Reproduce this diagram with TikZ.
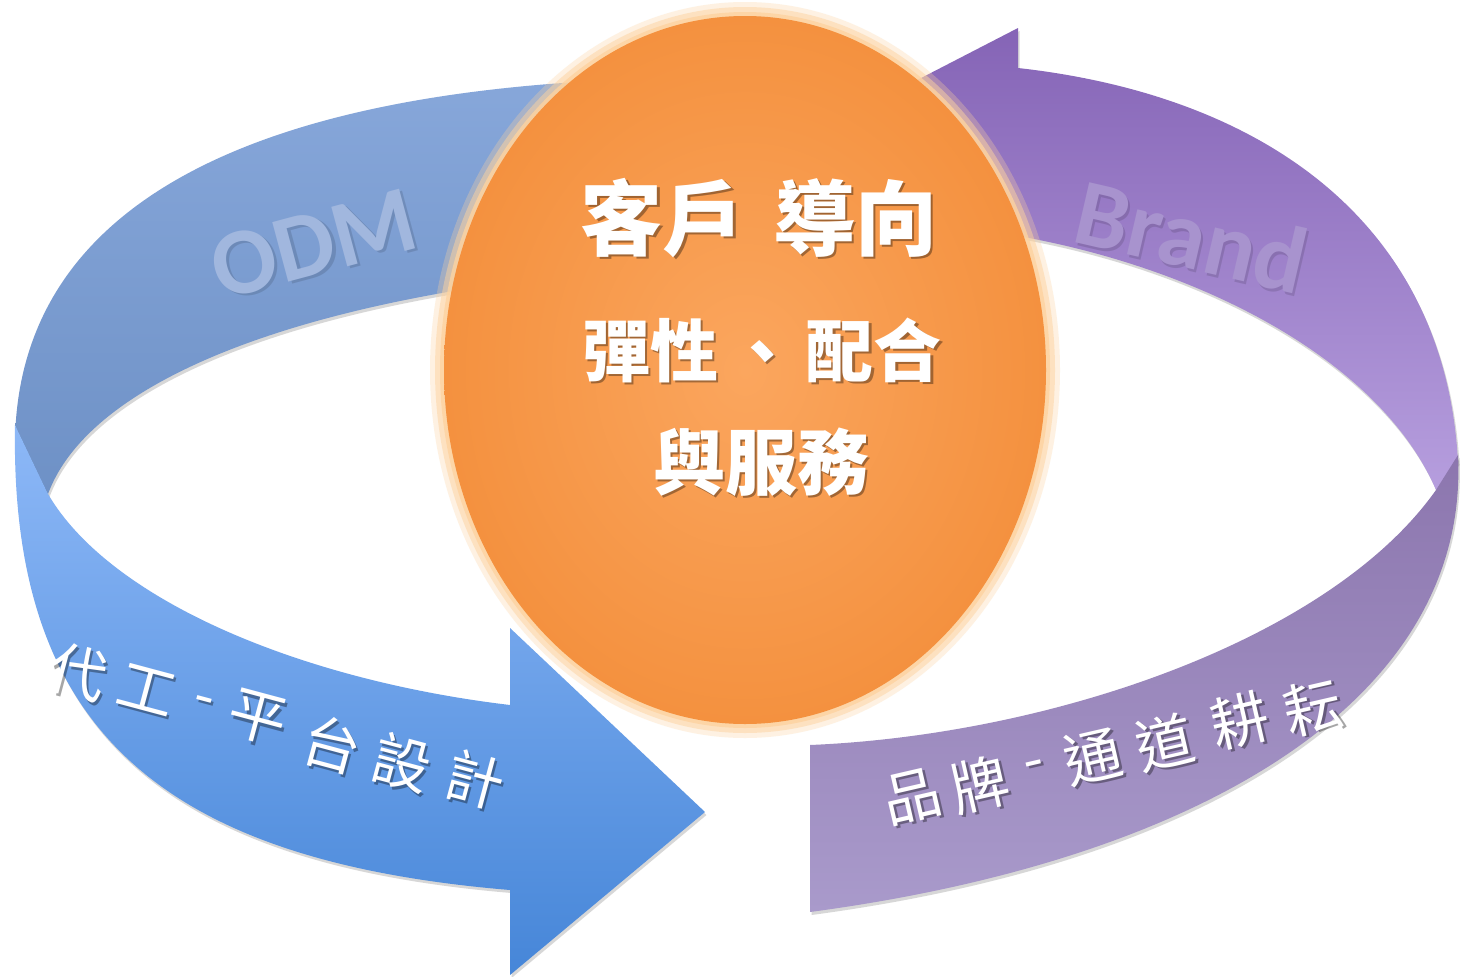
\documentclass[tikz,border=0pt]{standalone}
\usepackage{fontspec}
\newfontfamily\cjk{Noto Sans CJK TC}
\newfontfamily\lat{Carlito}
\usetikzlibrary{shapes.geometric,shadows}
\definecolor{bbT}{HTML}{87A7DA}
\definecolor{bbB}{HTML}{6E91C6}
\definecolor{bfT}{HTML}{8DB8F7}
\definecolor{bfB}{HTML}{4686D8}
\definecolor{pbT}{HTML}{8564B6}
\definecolor{pbB}{HTML}{B69EDE}
\definecolor{pfT}{HTML}{8C76AE}
\definecolor{pfM}{HTML}{A08EC2}
\definecolor{pfB}{HTML}{A99ACB}
\definecolor{orIn}{HTML}{FBA65E}
\definecolor{orOut}{HTML}{F4913F}
\definecolor{glowC}{HTML}{FDD3A0}
\definecolor{odmC}{HTML}{A1B7DE}
\definecolor{brandC}{HTML}{A893CE}
\newcommand\shadowed[5][0.35]{%
  \node[#4, text=black, opacity=#1, xshift=2.5pt, yshift=-2.5pt] (#2s) at (#3) {#5};
  \node[#4] (#2) at (#3) {#5};
}
\begin{document}
\begin{tikzpicture}[x=1pt,y=-1pt,
  band/.style={drop shadow={opacity=0.22,shadow xshift=1.5pt,shadow yshift=-3pt,fill=black!70}},
  side/.style={font=\cjk\fontsize{58}{60}\selectfont, text=white, inner sep=0},
  title/.style={font=\cjk\bfseries\fontsize{82}{84}\selectfont, text=white, inner sep=0},
  sub/.style={font=\cjk\bfseries\fontsize{68}{70}\selectfont, text=white, inner sep=0},
  subb/.style={font=\cjk\bfseries\fontsize{72}{74}\selectfont, text=white, inner sep=0},
  wm/.style={font=\lat\bfseries\fontsize{95}{95}\selectfont, inner sep=0}]
\useasboundingbox (0,0) rectangle (1462,977);
\fill[white] (0,0) rectangle (1462,977);

% back (upper) blue band
\path[band, top color=bbT, bottom color=bbB]
  (640,79) .. controls (300,90) and (20,180) .. (15,440)
  -- (48,494)
  .. controls (90,380) and (300,300) .. (600,272) -- cycle;

% back (upper) purple band with arrow head
\path[band, top color=pbT, bottom color=pbB]
  (1018,68) .. controls (1260,95) and (1445,220) .. (1458,462)
  -- (1436,490)
  .. controls (1380,360) and (1200,268) .. (1018,236)
  -- (1018,280) -- (830,125) -- (1018,28) -- cycle;

% watermark labels
\shadowed[0.12]{odm}{314,244}{wm, text=odmC, rotate=15}{ODM}
\shadowed[0.12]{brand}{1192,236}{wm, text=brandC, rotate=-13}{Brand}

% glow and hub
\fill[glowC, opacity=0.3] (745,370) ellipse [x radius=315, y radius=368];
\fill[glowC, opacity=0.5] (745,370) ellipse [x radius=310, y radius=363];
\fill[glowC, opacity=0.8] (745,370) ellipse [x radius=305, y radius=358];
\node[ellipse, minimum width=602pt, minimum height=708pt, inner sep=0,
      shading=radial, inner color=orIn, outer color=orOut] (hub) at (745,370) {};

\shadowed{t1}{759,218}{title}{客戶\hspace{0.35em}導向}
\shadowed{t2}{762,350}{sub}{彈性\hspace{10pt}、\hspace{10pt}配合}
\shadowed{t3}{761,462}{subb}{與服務}

% front (lower) blue band with arrow head
\path[band, top color=bfT, bottom color=bfB]
  (15,425) .. controls (10,720) and (150,860) .. (510,890)
  -- (510,975) -- (705,812) -- (510,628) -- (510,705)
  .. controls (300,680) and (110,600) .. (48,494) -- cycle;

% front (lower) purple band
\path[band, top color=pfT, middle color=pfM, bottom color=pfB]
  (1458,455) .. controls (1470,700) and (1200,860) .. (810,912)
  -- (810,745)
  .. controls (1050,735) and (1330,640) .. (1436,490) -- cycle;

% band captions
\foreach \ch/\x/\y [count=\i] in {代/78/672, 工/147/690, -/203/706, 平/258/718, 台/332/745, 設/402/763, 計/475/780}
  {\shadowed{a\i}{\x,\y}{side, rotate=-15}{\ch}}
\foreach \ch/\x/\y [count=\i] in {品/912/797, 牌/980/785, -/1035/770, 通/1093/757, 道/1165/743, 耕/1240/721, 耘/1313/707}
  {\shadowed{b\i}{\x,\y}{side, rotate=13}{\ch}}
\end{tikzpicture}
\end{document}
